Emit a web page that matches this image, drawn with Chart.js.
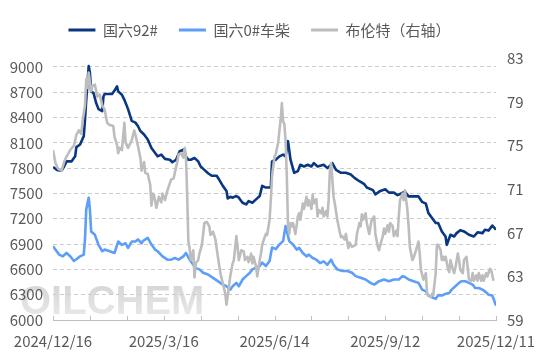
<!DOCTYPE html>
<html>
<head>
<meta charset="utf-8">
<script src="https://cdn.jsdelivr.net/npm/chart.js@4.4.1/dist/chart.umd.min.js"></script>
<style>
    html, body { margin: 0; padding: 0; background: #ffffff; }
    #wrap { position: relative; width: 539px; height: 359px; overflow: hidden; }
    #mark {
        position: absolute; left: 20px; top: 278px;
        font: bold 40px "Liberation Sans", Arial, sans-serif;
        background: linear-gradient(#d2d2d2, #ececec);
        -webkit-background-clip: text; background-clip: text;
        color: transparent;
    }
    #priceChart { position: absolute; left: 0; top: 0; }
</style>
</head>
<body>
<div id="wrap">
    <div id="mark">OILCHEM</div>
    <canvas id="priceChart" width="539" height="359"></canvas>
</div>
<script>
// x = days since 2024/12/16
const tickLabels = ['2024/12/16', '2025/3/16', '2025/6/14', '2025/9/12', '2025/12/11'];

const gas92Days = [0, 3, 7, 9, 11, 15, 18, 19, 22, 25, 26, 27, 28, 29, 30, 31, 33, 35, 37, 40, 41, 42, 48, 50, 52, 53, 56, 58, 61, 64, 67, 69, 71, 74, 77, 80, 83, 85, 88, 91, 95, 97, 100, 103, 106, 107, 110, 112, 115, 118, 120, 123, 126, 129, 133, 135, 138, 141, 142, 144, 146, 149, 151, 154, 157, 159, 162, 165, 168, 170, 173, 177, 178, 181, 184, 187, 189, 191, 193, 196, 199, 201, 204, 207, 210, 212, 215, 220, 223, 226, 227, 230, 234, 238, 242, 245, 249, 253, 255, 260, 262, 266, 270, 273, 277, 280, 283, 286, 289, 293, 297, 300, 303, 305, 308, 311, 313, 316, 319, 320, 323, 326, 328, 331, 334, 338, 342, 345, 349, 351, 354, 357, 360];
const gas92 = [7815, 7780, 7770, 7820, 7880, 7880, 7940, 8050, 8080, 8180, 8375, 8610, 8800, 9010, 8930, 8710, 8690, 8575, 8500, 8475, 8650, 8680, 8680, 8720, 8770, 8710, 8670, 8610, 8500, 8360, 8340, 8300, 8240, 8200, 8140, 8040, 7980, 7940, 7960, 7910, 7900, 7870, 7900, 8000, 8020, 7960, 7900, 7900, 7920, 7880, 7820, 7780, 7740, 7710, 7710, 7665, 7590, 7530, 7440, 7460, 7450, 7470, 7450, 7390, 7370, 7410, 7390, 7430, 7470, 7590, 7570, 7570, 7880, 7900, 7940, 7960, 7940, 8120, 7900, 7745, 7765, 7840, 7820, 7840, 7820, 7860, 7820, 7840, 7800, 7840, 7860, 7780, 7745, 7745, 7725, 7685, 7645, 7610, 7570, 7540, 7490, 7530, 7550, 7510, 7510, 7480, 7500, 7520, 7465, 7465, 7465, 7400, 7380, 7270, 7210, 7150, 7150, 7050, 6990, 6890, 7010, 6990, 7030, 7065, 7050, 7010, 6990, 7040, 7030, 7070, 7060, 7120, 7070];

const diesel0Days = [0, 3, 5, 8, 11, 14, 17, 19, 22, 25, 26, 27, 29, 30, 31, 34, 37, 40, 42, 46, 50, 53, 56, 59, 61, 64, 67, 69, 72, 73, 77, 80, 83, 85, 89, 93, 96, 99, 102, 106, 108, 111, 114, 116, 119, 122, 126, 130, 134, 138, 141, 144, 146, 149, 151, 154, 157, 160, 162, 165, 168, 170, 173, 176, 178, 181, 184, 187, 189, 192, 195, 198, 200, 203, 206, 208, 211, 214, 217, 220, 223, 226, 228, 231, 235, 239, 243, 246, 250, 254, 258, 261, 265, 269, 273, 277, 281, 284, 286, 289, 293, 297, 300, 303, 305, 308, 311, 313, 316, 319, 322, 324, 327, 330, 332, 335, 338, 341, 343, 346, 349, 351, 354, 357, 360];
const diesel0 = [6875, 6815, 6775, 6755, 6795, 6755, 6700, 6720, 6755, 6775, 6955, 7310, 7450, 7310, 7050, 7010, 6890, 6815, 6835, 6815, 6795, 6930, 6890, 6910, 6855, 6930, 6930, 6955, 6910, 6935, 6975, 6895, 6835, 6815, 6755, 6715, 6715, 6735, 6715, 6755, 6795, 6715, 6655, 6615, 6600, 6560, 6540, 6500, 6460, 6420, 6400, 6360, 6400, 6440, 6400, 6480, 6520, 6560, 6600, 6620, 6640, 6680, 6640, 6700, 6860, 6840, 6895, 6935, 7115, 6935, 6895, 6835, 6855, 6795, 6755, 6775, 6735, 6715, 6675, 6695, 6655, 6715, 6655, 6600, 6580, 6580, 6560, 6520, 6500, 6480, 6440, 6420, 6460, 6480, 6460, 6480, 6480, 6520, 6510, 6480, 6460, 6440, 6360, 6340, 6290, 6270, 6250, 6295, 6290, 6310, 6320, 6360, 6400, 6440, 6460, 6460, 6440, 6420, 6380, 6380, 6360, 6340, 6300, 6290, 6170];

const brentDays = [0, 2, 4, 7, 9, 11, 14, 17, 19, 21, 23, 24, 26, 27, 28, 29, 31, 32, 34, 36, 38, 40, 42, 44, 46, 49, 50, 52, 53, 54, 56, 58, 59, 61, 64, 66, 67, 69, 71, 72, 74, 75, 77, 79, 80, 81, 82, 84, 86, 88, 89, 91, 93, 96, 98, 99, 101, 102, 104, 106, 107, 108, 109, 110, 111, 112, 114, 115, 116, 118, 119, 121, 123, 125, 127, 128, 130, 132, 134, 136, 138, 140, 141, 143, 144, 146, 147, 149, 150, 151, 153, 155, 156, 158, 159, 161, 162, 163, 165, 166, 168, 169, 170, 172, 173, 174, 176, 177, 178, 180, 181, 183, 184, 185, 186, 187, 188, 189, 190, 191, 192, 193, 194, 195, 197, 199, 200, 201, 203, 204, 206, 207, 208, 210, 211, 212, 214, 215, 216, 218, 219, 220, 222, 223, 224, 225, 226, 227, 228, 229, 231, 233, 234, 235, 237, 238, 240, 241, 243, 246, 247, 249, 250, 251, 252, 254, 255, 257, 258, 259, 261, 262, 264, 265, 266, 268, 269, 270, 272, 273, 274, 276, 277, 279, 280, 281, 282, 284, 285, 286, 288, 289, 290, 292, 293, 295, 297, 298, 299, 301, 302, 303, 304, 305, 307, 308, 309, 311, 312, 313, 315, 316, 317, 318, 319, 321, 322, 323, 325, 326, 327, 329, 330, 331, 333, 334, 336, 337, 338, 340, 341, 342, 344, 345, 346, 348, 349, 350, 352, 353, 355, 356, 358];
const brent = [74.6, 73.4, 72.9, 72.7, 73.5, 74.0, 74.6, 75.0, 76.0, 76.4,
    76.1, 77.2, 78.7, 81.1, 80.3, 81.7, 80.0, 80.5, 80.6, 79.5,
    79.7, 78.7, 78.3, 77.1, 76.9, 76.8, 75.8, 75.1, 74.3, 74.8,
    74.6, 77.1, 75.3, 74.8, 75.5, 76.4, 76.0, 75.0, 73.9, 72.7,
    73.5, 72.5, 72.4, 71.4, 69.5, 70.6, 70.5, 69.3, 70.3, 69.8,
    70.6, 70.0, 70.9, 71.9, 72.0, 72.5, 73.5, 74.2, 74.3, 73.9,
    74.8, 74.2, 70.6, 66.2, 65.6, 64.5, 65.4, 62.9, 64.2, 64.5,
    65.1, 65.9, 67.9, 68.0, 67.6, 66.8, 67.1, 66.4, 64.8, 63.3,
    62.4, 61.4, 60.4, 62.1, 63.0, 64.2, 64.5, 66.7, 65.7, 64.5,
    65.4, 65.3, 64.5, 64.8, 64.3, 65.1, 64.2, 64.8, 63.9, 63.0,
    64.5, 65.1, 65.9, 66.6, 66.9, 66.8, 68.2, 70.0, 72.2, 74.0,
    74.2, 75.3, 76.4, 77.4, 78.9, 77.2, 77.0, 75.5, 72.2, 67.6,
    66.9, 67.9, 67.6, 67.9, 66.9, 68.5, 68.8, 68.2, 69.7, 69.2,
    70.3, 69.5, 70.0, 69.2, 70.5, 69.7, 70.1, 68.5, 69.1, 68.8,
    69.3, 68.5, 69.0, 68.5, 70.0, 72.7, 73.4, 71.9, 70.3, 69.7,
    68.2, 67.1, 66.6, 66.7, 66.4, 66.9, 65.6, 66.1, 65.7, 65.9,
    66.9, 67.9, 67.6, 68.7, 68.2, 68.8, 67.9, 66.9, 67.6, 68.2,
    68.5, 66.9, 65.7, 65.4, 65.9, 66.7, 67.4, 66.9, 67.7, 67.1,
    67.9, 67.6, 66.7, 67.2, 66.7, 68.5, 70.0, 70.6, 70.0, 70.9,
    69.1, 67.6, 65.7, 64.5, 64.7, 65.4, 66.2, 65.1, 63.6, 62.7,
    63.0, 63.3, 61.4, 61.3, 61.1, 61.4, 61.3, 63.3, 65.9, 65.9,
    65.4, 64.5, 64.8, 64.5, 64.8, 63.7, 63.4, 64.5, 63.6, 63.3,
    63.8, 65.1, 64.5, 63.6, 63.3, 64.5, 64.8, 63.8, 62.7, 62.6,
    63.3, 62.6, 63.1, 62.6, 63.3, 62.6, 63.1, 62.6, 63.3, 63.0,
    63.7, 63.6, 62.6];

function toPoints(days, values) {
    return days.map((d, i) => ({ x: d, y: values[i] }));
}

const fontFamily = '"Microsoft YaHei", "Noto Sans CJK SC", sans-serif';
const textColor = '#595959';

// extra room between legend and plot, legend sits a bit left of centre
const legendTweak = {
    id: 'legendTweak',
    afterInit(chart) {
        const legend = chart.legend;
        const fit = legend.fit;
        const draw = legend.draw;
        legend.fit = function() {
            fit.call(this);
            this.height += 11;
        };
        legend.draw = function() {
            this.ctx.save();
            this.ctx.translate(-10, 0);
            draw.call(this);
            this.ctx.restore();
        };
    }
};

// small tick marks standing on the x axis line
const innerTicks = {
    id: 'innerTicks',
    afterDatasetsDraw(chart) {
        const xs = chart.scales.x;
        const ctx = chart.ctx;
        ctx.save();
        ctx.strokeStyle = '#bfbfbf';
        ctx.lineWidth = 1;
        xs.ticks.forEach(t => {
            const px = Math.round(xs.getPixelForValue(t.value)) + 0.5;
            ctx.beginPath();
            ctx.moveTo(px, xs.top);
            ctx.lineTo(px, xs.top - 4);
            ctx.stroke();
        });
        ctx.restore();
    }
};

new Chart(document.getElementById('priceChart'), {
    type: 'line',
    data: {
        datasets: [{
            label: '国六92#',
            data: toPoints(gas92Days, gas92),
            borderColor: '#0a3782',
            backgroundColor: '#0a3782',
            borderWidth: 2.6,
            borderJoinStyle: 'round',
            pointRadius: 0,
            yAxisID: 'y',
            order: 1
        }, {
            label: '国六0#车柴',
            data: toPoints(diesel0Days, diesel0),
            borderColor: '#5c9ef8',
            backgroundColor: '#5c9ef8',
            borderWidth: 2.6,
            borderJoinStyle: 'round',
            pointRadius: 0,
            yAxisID: 'y',
            order: 2
        }, {
            label: '布伦特（右轴）',
            data: toPoints(brentDays, brent),
            borderColor: '#bdbdbd',
            backgroundColor: '#bdbdbd',
            borderWidth: 2.6,
            borderJoinStyle: 'round',
            pointRadius: 0,
            yAxisID: 'y1',
            order: 0
        }]
    },
    options: {
        responsive: false,
        animation: false,
        layout: {
            padding: { top: 1.5, bottom: 9, left: 0, right: 0 }
        },
        plugins: {
            legend: {
                display: true,
                position: 'top',
                labels: {
                    boxWidth: 27,
                    boxHeight: 3,
                    padding: 21,
                    color: textColor,
                    font: { size: 15, family: fontFamily },
                    sort: (a, b) => a.datasetIndex - b.datasetIndex,
                    generateLabels: function(chart) {
                        return Chart.defaults.plugins.legend.labels.generateLabels(chart).map(item => {
                            item.lineWidth = 0;
                            return item;
                        });
                    }
                }
            },
            tooltip: { enabled: false }
        },
        scales: {
            x: {
                type: 'linear',
                min: 0,
                max: 360,
                afterFit: function(scale) {
                    scale.height = 30;
                    scale.paddingLeft = 0;
                    scale.paddingRight = 0;
                },
                grid: { display: false, drawTicks: false },
                border: { display: true, color: '#bfbfbf', width: 1 },
                ticks: {
                    stepSize: 30,
                    autoSkip: false,
                    maxRotation: 0,
                    padding: 12,
                    color: textColor,
                    font: { size: 15, family: fontFamily },
                    callback: function(value) {
                        return value % 90 === 0 ? tickLabels[value / 90] : '';
                    }
                }
            },
            y: {
                position: 'left',
                min: 6000,
                max: 9100,
                afterFit: function(scale) { scale.width = 53; },
                border: { display: false, dash: [4, 3] },
                grid: {
                    drawTicks: false,
                    color: ctx => ctx.tick.value === 6000 ? 'rgba(0,0,0,0)' : '#cccccc'
                },
                ticks: {
                    stepSize: 300,
                    includeBounds: false,
                    padding: 10,
                    color: textColor,
                    font: { size: 15, family: fontFamily },
                    callback: value => String(value)
                }
            },
            y1: {
                position: 'right',
                min: 59,
                max: 83,
                afterFit: function(scale) { scale.width = 43; },
                border: { display: false },
                grid: { display: false, drawOnChartArea: false, drawTicks: false },
                ticks: {
                    stepSize: 4,
                    padding: 11,
                    color: textColor,
                    font: { size: 15, family: fontFamily }
                }
            }
        }
    },
    plugins: [legendTweak, innerTicks]
});
</script>
</body>
</html>
